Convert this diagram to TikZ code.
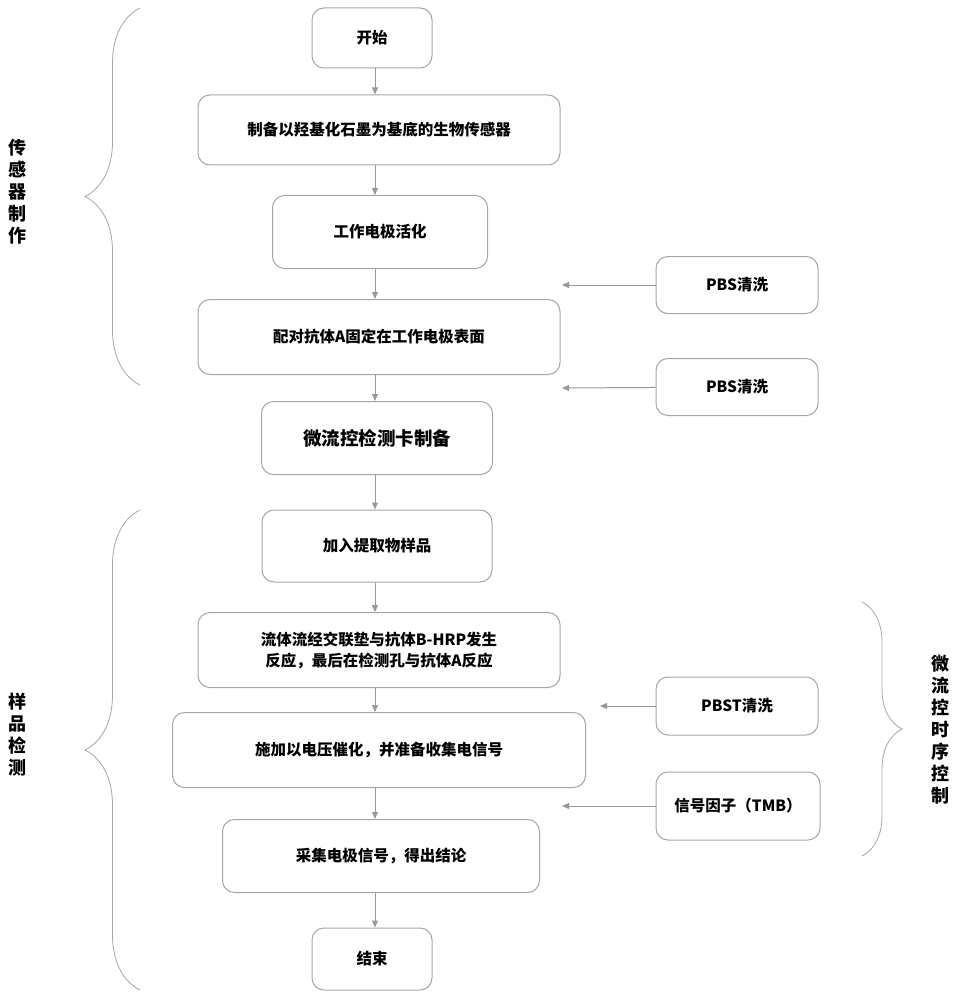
\documentclass[tikz,border=0pt]{standalone}
\usepackage{fontspec}
\setmainfont{Noto Sans CJK SC}
\usetikzlibrary{arrows.meta}
\usetikzlibrary{decorations.pathreplacing}
\tikzset{%
  mybox/.style={draw=gray!70, rounded corners=12pt, line width=1pt, align=center,
    font=\bfseries\fontsize{15.5}{21}\selectfont},
  myedge/.style={-{Triangle[length=7pt,width=6pt]}, draw=gray!80, line width=1pt},
  mybrace/.style={draw=gray!70, line width=0.8pt, decorate},
  mylabel/.style={align=center, font=\bfseries\fontsize{18}{22}\selectfont}
}
\begin{document}
\begin{tikzpicture}[x=1pt, y=-1pt]
\useasboundingbox (0,0) rectangle (959,1000);

% main column
\node [mybox, minimum width=120pt, minimum height=60pt] (start) at (372,38) {开始};
\node [mybox, minimum width=362pt, minimum height=70pt] (prep) at (379,130) {制备以羟基化石墨为基底的生物传感器};
\node [mybox, minimum width=215pt, minimum height=73pt] (act) at (380,232) {工作电极活化};
\node [mybox, minimum width=362pt, minimum height=75pt] (fix) at (379,337) {配对抗体A固定在工作电极表面};
\node [mybox, minimum width=231pt, minimum height=73pt, font=\bfseries\fontsize{18.5}{22}\selectfont] (card) at (377,438) {微流控检测卡制备};
\node [mybox, minimum width=230pt, minimum height=72pt] (add) at (377,546) {加入提取物样品};
\node [mybox, minimum width=362pt, minimum height=75pt] (flow) at (379,650) {流体流经交联垫与抗体B-HRP发生\\反应，最后在检测孔与抗体A反应};
\node [mybox, minimum width=413pt, minimum height=75pt] (volt) at (379,750) {施加以电压催化，并准备收集电信号};
\node [mybox, minimum width=317pt, minimum height=73pt] (read) at (381,856) {采集电极信号，得出结论};
\node [mybox, minimum width=120pt, minimum height=62pt] (stop) at (372,959) {结束};

\foreach \a/\b in {start/prep, prep/act, act/fix, fix/card, card/add, add/flow, flow/volt, volt/read, read/stop} {
  \draw [myedge] (\a.south -| 375,0) -- (\b.north -| 375,0);
}

% side inputs
\node [mybox, minimum width=162pt, minimum height=57pt] (wash1) at (737,285) {PBS清洗};
\node [mybox, minimum width=162pt, minimum height=57pt] (wash2) at (737,387) {PBS清洗};
\node [mybox, minimum width=162pt, minimum height=58pt] (wash3) at (737,706) {PBST清洗};
\node [mybox, minimum width=164pt, minimum height=68pt] (tmb) at (738,806) {信号因子（TMB）};

\coordinate (in1) at (562,285);
\coordinate (in2) at (562,388);
\coordinate (in3) at (600,706);
\coordinate (in4) at (562,806);
\draw [myedge] (wash1) -- (in1);
\draw [myedge] (wash2) -- (in2);
\draw [myedge] (wash3) -- (in3);
\draw [myedge] (tmb) -- (in4);

% braces
\draw [mybrace, decoration={brace, amplitude=55pt}] (140,385) -- (140,8);
\draw [mybrace, decoration={brace, amplitude=55pt}] (140,990) -- (140,510);
\draw [mybrace, decoration={brace, amplitude=40pt}] (862,602) -- (862,856);

\node [mylabel] (lab1) at (18,192) {传\\感\\器\\制\\作};
\node [mylabel] (lab2) at (18,735) {样\\品\\检\\测};
\node [mylabel] (lab3) at (940,730) {微\\流\\控\\时\\序\\控\\制};
\end{tikzpicture}
\end{document}
